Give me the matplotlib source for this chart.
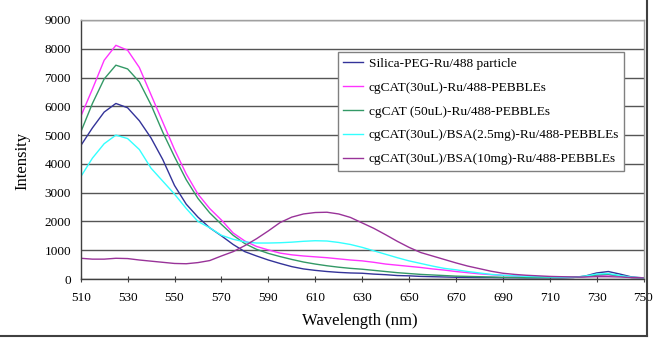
import matplotlib
matplotlib.use("Agg")
import matplotlib.pyplot as plt
from matplotlib.lines import Line2D

plt.rcParams['font.family'] = ['Liberation Serif', 'DejaVu Serif']

wavelength = list(range(510, 751, 5))

silica_peg = [4630, 5250, 5800, 6100, 5950, 5500, 4900, 4150, 3250, 2600,
              2150, 1780, 1500, 1200, 950, 800, 660, 540, 430, 350,
              300, 260, 230, 210, 200, 170, 150, 120, 110, 90,
              80, 70, 60, 55, 50, 50, 45, 45, 40, 40,
              40, 40, 50, 100, 210, 260, 170, 70, 40]

cgcat30 = [5640, 6600, 7600, 8120, 7950, 7350, 6400, 5450, 4500, 3650,
           2950, 2450, 2050, 1600, 1320, 1130, 1010, 900, 840, 800,
           770, 740, 700, 660, 630, 580, 520, 480, 440, 400,
           350, 310, 260, 220, 180, 150, 125, 100, 90, 80,
           70, 60, 60, 80, 120, 140, 100, 50, 40]

cgcat50 = [5100, 6100, 6950, 7430, 7300, 6850, 6050, 5100, 4250, 3450,
           2800, 2300, 1900, 1520, 1230, 1030, 890, 780, 680, 590,
           520, 460, 410, 370, 340, 300, 260, 220, 190, 160,
           140, 120, 100, 90, 80, 70, 60, 55, 50, 50,
           50, 50, 60, 90, 140, 160, 110, 50, 40]

bsa25 = [3550, 4200, 4700, 5000, 4880, 4500, 3850, 3400, 2950, 2450,
         2000, 1780, 1520, 1380, 1290, 1250, 1250, 1260, 1280, 1310,
         1330, 1320, 1270, 1200, 1100, 980, 860, 740, 630, 540,
         450, 370, 320, 260, 210, 160, 130, 110, 90, 80,
         70, 60, 60, 100, 170, 190, 120, 60, 40]

bsa10 = [720, 690, 690, 720, 710, 660, 620, 580, 540, 530,
         570, 640, 800, 950, 1160, 1400, 1670, 1960, 2150, 2260,
         2310, 2320, 2260, 2140, 1950, 1760, 1540, 1310, 1100, 920,
         800, 680, 560, 450, 360, 270, 200, 160, 130, 110,
         90, 80, 70, 70, 80, 80, 70, 50, 40]

labels = ["Silica-PEG-Ru/488 particle",
          "cgCAT(30uL)-Ru/488-PEBBLEs",
          "cgCAT (50uL)-Ru/488-PEBBLEs",
          "cgCAT(30uL)/BSA(2.5mg)-Ru/488-PEBBLEs",
          "cgCAT(30uL)/BSA(10mg)-Ru/488-PEBBLEs"]
colors = ["#333399", "#FF33FF", "#339966", "#33FFFF", "#993399"]
series = [silica_peg, cgcat30, cgcat50, bsa25, bsa10]

x_ticks = list(range(510, 751, 20))
y_ticks = list(range(0, 9001, 1000))

fig = plt.figure(figsize=(6.54, 3.38), dpi=100)
ax = fig.add_axes([80.7 / 654, 1 - 279 / 338, (643.5 - 80.7) / 654, (279 - 20) / 338])

for s, c, l in zip(series, colors, labels):
    ax.plot(wavelength, s, color=c, lw=1.0, label=l)

ax.set_xlim(510, 750)
ax.set_ylim(0, 9000)
ax.set_xticks(x_ticks)
ax.set_yticks(y_ticks)
ax.yaxis.grid(True, color="#555555", lw=1.0)
ax.set_axisbelow(True)

ax.tick_params(axis='x', direction='inout', length=5, width=0.8, color='#404040',
               labelsize=9.5, pad=7)
ax.tick_params(axis='y', length=0, labelsize=9.5, pad=7)

for side in ['top', 'right']:
    ax.spines[side].set_color('#A0A0A0')
    ax.spines[side].set_linewidth(1.0)
for side in ['left', 'bottom']:
    ax.spines[side].set_color('#404040')
    ax.spines[side].set_linewidth(1.0)

ax.set_xlabel("Wavelength (nm)", fontsize=12)
ax.set_ylabel("Intensity", fontsize=12)
ax.xaxis.set_label_coords(0.4963, -0.131)
ax.yaxis.set_label_coords(-0.09, 0.456)

leg = ax.legend(loc='upper left', bbox_to_anchor=((338 - 80.7) / 562.8, (279 - 52) / 259),
                fontsize=9.6, frameon=True, fancybox=False, framealpha=1,
                edgecolor='#808080', borderpad=0.4, labelspacing=0.87,
                handlelength=1.5, handletextpad=0.4, borderaxespad=0)
leg.get_frame().set_linewidth(1.0)

# outer chart border
fig.add_artist(Line2D([646.5 / 654, 646.5 / 654], [1 - 336 / 338, 1.0],
                      transform=fig.transFigure, color='#404040', lw=1.5))
fig.add_artist(Line2D([0, 646.5 / 654], [1 - 336 / 338, 1 - 336 / 338],
                      transform=fig.transFigure, color='#404040', lw=1.5))

fig.savefig("out.png", dpi=100)
